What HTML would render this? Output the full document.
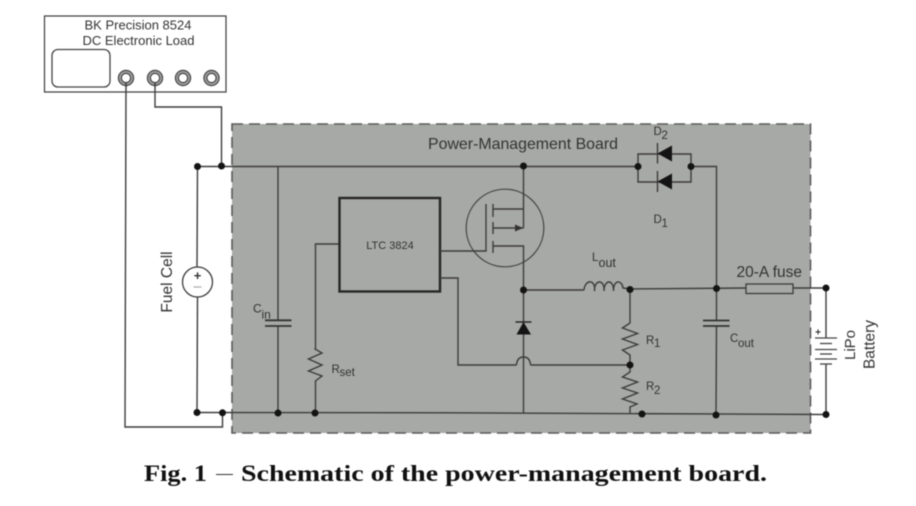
<!DOCTYPE html>
<html>
<head>
<meta charset="utf-8">
<style>
html,body{margin:0;padding:0;background:#fff;width:916px;height:506px;overflow:hidden}
svg{display:block;filter:blur(0.45px)}
text{font-family:"Liberation Sans",sans-serif;fill:#333}
.w{fill:none;stroke:#3c3c3c;stroke-width:1.4;stroke-linejoin:miter}
.d{fill:#141414}
</style>
</head>
<body>
<svg width="916" height="506" viewBox="0 0 916 506" xmlns="http://www.w3.org/2000/svg">
  <!-- board -->
  <rect x="232" y="124" width="578.5" height="309" fill="#a7a9a6"/>
  <rect x="232" y="124" width="578.5" height="309" fill="none" stroke="#5a5a5a" stroke-width="1.6" stroke-dasharray="11 6"/>

  <!-- instrument -->
  <rect x="44.5" y="16" width="181.5" height="76" fill="#fff" stroke="#3c3c3c" stroke-width="1.2"/>
  <text x="138" y="29.5" font-size="13" text-anchor="middle">BK Precision 8524</text>
  <text x="138.5" y="45" font-size="13" text-anchor="middle">DC Electronic Load</text>
  <rect x="52" y="49.5" width="58" height="37.5" rx="6" fill="#fff" stroke="#444" stroke-width="1.3"/>
  <g fill="#a0a0a0" stroke="#444" stroke-width="1.2">
    <circle cx="126" cy="78" r="7.6"/>
    <circle cx="155" cy="78" r="7.6"/>
    <circle cx="183" cy="78" r="7.6"/>
    <circle cx="211.5" cy="78" r="7.6"/>
  </g>
  <g fill="#fff" stroke="#444" stroke-width="1.2">
    <circle cx="126" cy="78" r="4.6"/>
    <circle cx="155" cy="78" r="4.6"/>
    <circle cx="183" cy="78" r="4.6"/>
    <circle cx="211.5" cy="78" r="4.6"/>
  </g>

  <!-- external wires -->
  <polyline class="w" points="126,83 125,427 222.5,427 222.5,412.5"/>
  <polyline class="w" points="155,83 155,107 221.5,107 221.5,166.5"/>

  <!-- main rails -->
  <polyline class="w" points="197,166.5 638,166.5"/>
  <polyline class="w" points="197,412.5 450,412.8 826,414.5"/>
  <line class="w" x1="197.5" y1="166.5" x2="197" y2="267"/>
  <line class="w" x1="197.5" y1="297" x2="197" y2="412.5"/>

  <!-- fuel cell source -->
  <circle cx="197.5" cy="282" r="15" fill="#fff" stroke="#3c3c3c" stroke-width="1.3"/>
  <text x="197.5" y="280" font-size="13" text-anchor="middle" font-weight="bold" style="fill:#333">+</text>
  <line x1="193.5" y1="287" x2="201.5" y2="287" stroke="#aaa" stroke-width="1.2"/>
  <text transform="translate(172,282) rotate(-90)" font-size="15.5" text-anchor="middle">Fuel Cell</text>

  <!-- Cin -->
  <line class="w" x1="278" y1="166.5" x2="278" y2="320"/>
  <line class="w" x1="278" y1="326" x2="278" y2="412.5"/>
  <line x1="265" y1="320.3" x2="291.5" y2="320.3" stroke="#333" stroke-width="1.8"/>
  <line x1="265" y1="326" x2="291.5" y2="326" stroke="#333" stroke-width="1.8"/>
  <text x="253" y="312.5" font-size="12">C</text>
  <text x="261.5" y="318.5" font-size="12">in</text>

  <!-- Rset -->
  <polyline class="w" points="339,244 315.5,244 315.5,348 315,349 322,353 308.5,359 322,365 308.5,371 322,376 315.5,381 315.5,412.5"/>
  <text x="331.5" y="373" font-size="11.5">R</text>
  <text x="339.5" y="376" font-size="11.5">set</text>

  <!-- LTC -->
  <rect x="339.5" y="198" width="100.5" height="93.5" fill="none" stroke="#262626" stroke-width="2.4"/>
  <text x="390" y="249" font-size="11" text-anchor="middle">LTC 3824</text>

  <!-- MOSFET -->
  <circle cx="505" cy="228" r="38.8" fill="none" stroke="#444" stroke-width="1.2"/>
  <polyline class="w" points="440,251 486,251 486,204"/>
  <line class="w" x1="493" y1="204" x2="493" y2="217"/>
  <line class="w" x1="493" y1="222" x2="493" y2="234"/>
  <line class="w" x1="493" y1="241" x2="493" y2="253"/>
  <polyline class="w" points="493,209 523.5,209"/>
  <polyline class="w" points="493,228 523.5,228"/>
  <polyline class="w" points="493,246 523.5,246 523.5,412.8"/>
  <line class="w" x1="523.5" y1="166.5" x2="523.5" y2="228"/>
  <polygon points="523,228 515,224.5 515,231.5" fill="#333"/>

  <!-- freewheel diode -->
  <line x1="515.5" y1="322" x2="531.5" y2="322" stroke="#222" stroke-width="1.4"/>
  <polygon points="523.5,322 516.5,334.5 531,334.5" fill="#141414"/>

  <!-- feedback -->
  <polyline class="w" points="440,278 458,278 458,365 516.5,365"/>
  <path class="w" d="M516.5,365 C517,358.5 520,357 523.5,357 C527,357 530,358.5 530.5,365"/>
  <polyline class="w" points="530.5,365 630,365"/>

  <!-- Lout -->
  <polyline class="w" points="523.5,290 584,290"/>
  <path class="w" d="M584,290 C585,279 596,279 594.5,291 C594,279 605,279 604,291 C604,279 614,279 613.5,291 C613.5,279 622,280 623,288 L630,289"/>
  <polyline class="w" points="630,289 746,288"/>
  <text x="592" y="261" font-size="11.5">L</text>
  <text x="598.5" y="267" font-size="12.5">out</text>

  <!-- R1 R2 -->
  <polyline class="w" points="630,289 630,323 622.5,328 637.5,333.5 622.5,339 637.5,344.5 622.5,350 630,355 630,372 622.5,377 637.5,382 622.5,388 637.5,393 622.5,399 637,404 630,407 630,413"/>
  <text x="646" y="344" font-size="11.5">R</text>
  <text x="654" y="347" font-size="11.5">1</text>
  <text x="646" y="390" font-size="11.5">R</text>
  <text x="654" y="394" font-size="11.5">2</text>

  <!-- diodes D1 D2 -->
  <polyline class="w" points="638,166.5 638,154 691,154 691,166.5 691,182 638,182 638,166.5"/>
  <line x1="657.5" y1="143" x2="657.5" y2="163.5" stroke="#333" stroke-width="1.3"/>
  <polygon points="657.5,153.5 672,145.5 672,161.5" fill="#141414"/>
  <line x1="657.5" y1="171" x2="657.5" y2="192" stroke="#333" stroke-width="1.3"/>
  <polygon points="657.5,181.5 672,173.5 672,189.5" fill="#141414"/>
  <text x="653.5" y="135" font-size="11.5">D</text>
  <text x="661.5" y="139" font-size="11.5">2</text>
  <text x="653.5" y="223" font-size="11.5">D</text>
  <text x="661.5" y="227" font-size="11.5">1</text>
  <polyline class="w" points="691,166.5 716.5,166.5 716.5,320"/>

  <!-- Cout -->
  <line class="w" x1="716.5" y1="326" x2="716" y2="415"/>
  <line x1="703" y1="320.5" x2="729.5" y2="320.5" stroke="#333" stroke-width="1.8"/>
  <line x1="703" y1="326" x2="729.5" y2="326" stroke="#333" stroke-width="1.8"/>
  <text x="730" y="342" font-size="11.5">C</text>
  <text x="738" y="347" font-size="11.5">out</text>

  <!-- fuse -->
  <polyline class="w" points="746,288 826,288"/>
  <rect x="746" y="284" width="47" height="9.5" fill="#a7a9a6" stroke="#3c3c3c" stroke-width="1.3"/>
  <text x="736.5" y="277" font-size="15.5">20-A fuse</text>

  <!-- battery -->
  <line class="w" x1="826" y1="288" x2="826" y2="338"/>
  <line class="w" x1="826" y1="364" x2="826" y2="414.5"/>
  <g stroke="#444" stroke-width="1.3">
    <line x1="815" y1="338" x2="837" y2="338"/>
    <line x1="820" y1="343.5" x2="832" y2="343.5"/>
    <line x1="815" y1="349.5" x2="837" y2="349.5"/>
    <line x1="820" y1="354" x2="832" y2="354"/>
    <line x1="815" y1="359" x2="837" y2="359"/>
    <line x1="820" y1="364" x2="832" y2="364"/>
  </g>
  <text x="818" y="335.5" font-size="10" font-weight="bold" text-anchor="middle">+</text>
  <text transform="translate(855,345) rotate(-90)" font-size="15" text-anchor="middle">LiPo</text>
  <text transform="translate(874.5,344.5) rotate(-90)" font-size="15.5" text-anchor="middle">Battery</text>

  <!-- junction dots -->
  <g class="d">
    <circle cx="197.5" cy="166.5" r="3.5"/>
    <circle cx="221.5" cy="166" r="3.5"/>
    <circle cx="197" cy="412.5" r="3.5"/>
    <circle cx="222.5" cy="412.8" r="3.5"/>
    <circle cx="278" cy="413" r="3.5"/>
    <circle cx="315" cy="413" r="3.5"/>
    <circle cx="523.5" cy="166" r="3.5"/>
    <circle cx="523.5" cy="290" r="3.5"/>
    <circle cx="630" cy="289.5" r="3.5"/>
    <circle cx="630" cy="365" r="3.5"/>
    <circle cx="642" cy="414" r="3.5"/>
    <circle cx="638" cy="166.5" r="3.5"/>
    <circle cx="691" cy="166.5" r="3.5"/>
    <circle cx="716.5" cy="288.5" r="3.5"/>
    <circle cx="716" cy="415" r="3.5"/>
    <circle cx="826" cy="288" r="3.5"/>
    <circle cx="826" cy="414.5" r="3.5"/>
  </g>

  <!-- titles -->
  <text x="428" y="149" font-size="16" textLength="190" lengthAdjust="spacingAndGlyphs">Power-Management Board</text>
  <text x="144" y="481" font-size="23" font-weight="bold" textLength="63" lengthAdjust="spacingAndGlyphs" style="font-family:'Liberation Serif',serif;fill:#111">Fig. 1</text>
  <line x1="216" y1="474.5" x2="233" y2="474.5" stroke="#333" stroke-width="1"/>
  <text x="241" y="481" font-size="23" font-weight="bold" textLength="526" lengthAdjust="spacingAndGlyphs" style="font-family:'Liberation Serif',serif;fill:#111">Schematic of the power-management board.</text>
</svg>
</body>
</html>
